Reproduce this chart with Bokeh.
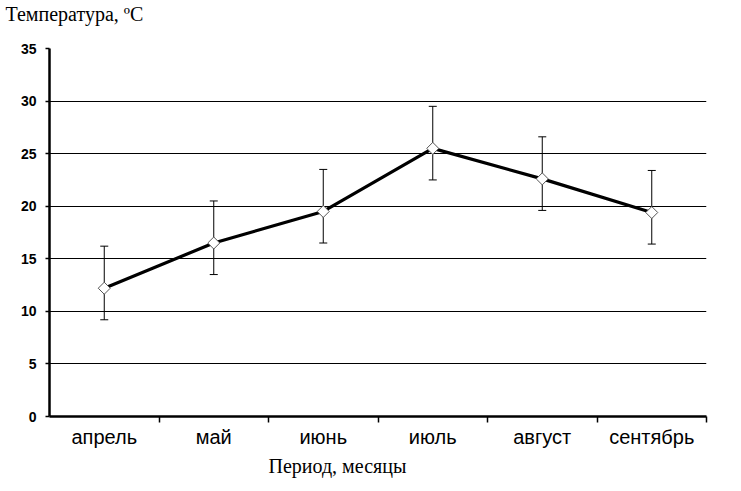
import numpy as np
from bokeh.plotting import figure
from bokeh.models import Range1d, FixedTicker, Whisker, TeeHead, ColumnDataSource, Title
from bokeh.embed import file_html
from bokeh.resources import INLINE

months = ["апрель", "май", "июнь", "июль", "август", "сентябрь"]
temp_mean = [12.2, 16.5, 19.5, 25.5, 22.6, 19.4]
temp_upper = [16.2, 20.5, 23.5, 29.5, 26.6, 23.4]
temp_lower = [9.2, 13.5, 16.5, 22.5, 19.6, 16.4]
y_ticks = [0, 5, 10, 15, 20, 25, 30, 35]

x = list(np.arange(len(months)) + 0.5)
src = ColumnDataSource(dict(x=x, y=temp_mean, up=temp_upper, lo=temp_lower))

p = figure(frame_width=657, frame_height=368, output_backend="svg", toolbar_location=None,
           x_range=Range1d(0, len(months)), y_range=Range1d(0, 35),
           min_border_left=49, min_border_right=19, min_border_top=48, min_border_bottom=59)
p.outline_line_color = None
p.background_fill_color = "white"
p.border_fill_color = "white"

# x axis: labels at centers, tick marks at boundaries
xa = p.xaxis[0]
xa.ticker = FixedTicker(ticks=x, minor_ticks=list(range(1, len(months) + 1)))
xa.major_label_overrides = {float(v): m for v, m in zip(x, months)}
xa.major_tick_out = 0
xa.major_tick_in = 0
xa.minor_tick_out = 6
xa.minor_tick_in = 0
xa.minor_tick_line_color = "black"
xa.minor_tick_line_width = 1.5
xa.axis_line_color = "black"
xa.axis_line_width = 2.5
xa.major_label_text_font = "Liberation Sans"
xa.major_label_text_font_size = "20px"
xa.major_label_text_color = "black"
xa.major_label_standoff = 3

ya = p.yaxis[0]
ya.ticker = FixedTicker(ticks=y_ticks)
ya.major_tick_out = 4
ya.major_tick_in = 0
ya.major_tick_line_color = "black"
ya.major_tick_line_width = 1.5
ya.minor_tick_line_color = None
ya.axis_line_color = "black"
ya.axis_line_width = 2.5
ya.major_label_text_font = "Liberation Sans"
ya.major_label_text_font_style = "bold"
ya.major_label_text_font_size = "14px"
ya.major_label_text_color = "black"
ya.major_label_standoff = 9

p.xgrid.grid_line_color = None
p.ygrid.ticker = FixedTicker(ticks=y_ticks)
p.ygrid.grid_line_color = "black"
p.ygrid.grid_line_width = 1.2
p.ygrid.grid_line_alpha = 1.0

wh = Whisker(source=src, base="x", upper="up", lower="lo", dimension="height",
             line_color="black", line_width=1, level="underlay",
             upper_head=TeeHead(size=8, line_color="black", line_width=1),
             lower_head=TeeHead(size=8, line_color="black", line_width=1))
p.add_layout(wh)

p.line("x", "y", source=src, line_color="black", line_width=3.2)
p.scatter("x", "y", source=src, marker="square", angle=0.785398, size=8.5,
          fill_color="white", line_color="#555555", line_width=1)

p.add_layout(Title(text="Температура, ºC\n ", align="left", offset=-44, standoff=0,
                   vertical_align="top",
                   text_font="Liberation Serif", text_font_size="20px",
                   text_font_style="normal", text_color="black"), "above")
p.add_layout(Title(text="Период, месяцы", align="left", offset=219, standoff=4,
                   text_font="Liberation Serif", text_font_size="20px",
                   text_font_style="normal", text_color="black"), "below")

open("out.html", "w").write(file_html(p, INLINE))
